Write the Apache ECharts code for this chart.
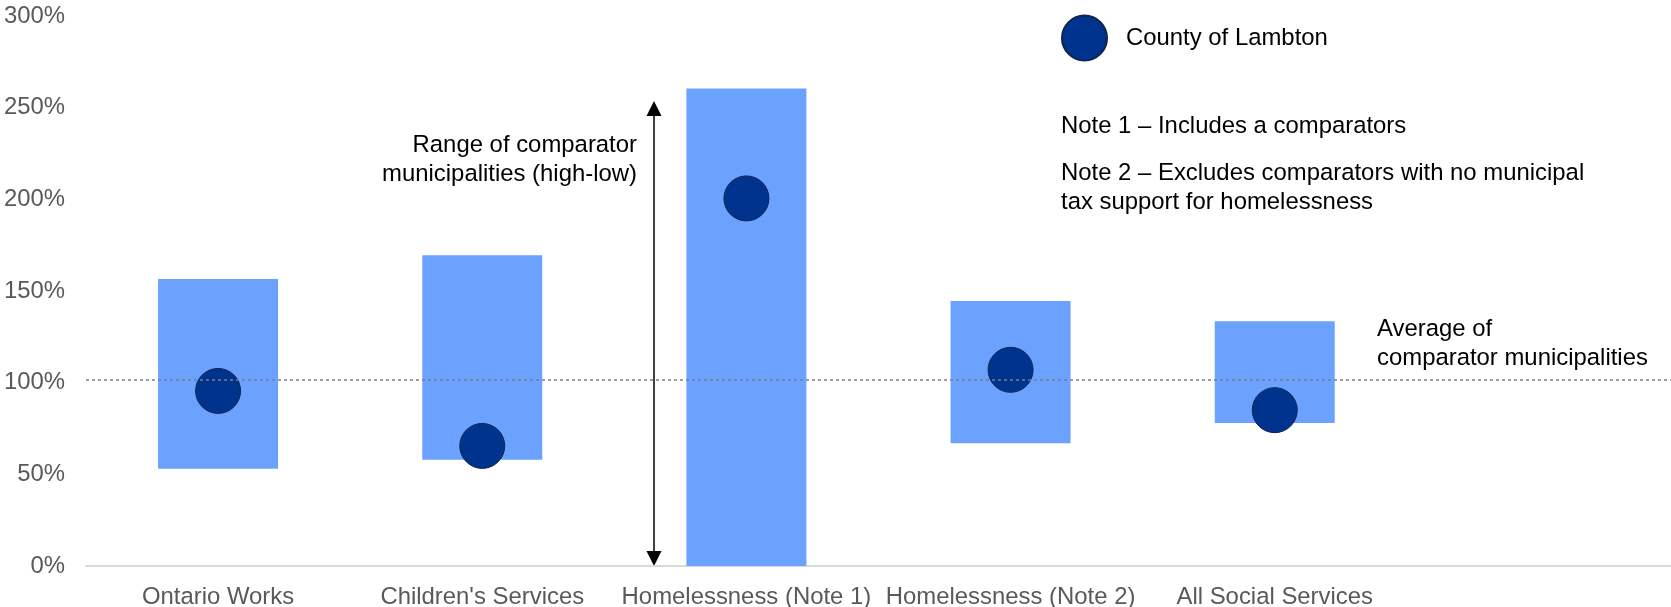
<!DOCTYPE html>
<html><head><meta charset="utf-8">
<script src="https://cdn.jsdelivr.net/npm/echarts@6/dist/echarts.min.js"></script>
<style>html,body{margin:0;padding:0;background:#fff}#c{width:1671px;height:607px}</style>
</head><body><div id="c"></div>
<script>
const categories = ['Ontario Works', "Children's Services", 'Homelessness (Note 1)', 'Homelessness (Note 2)', 'All Social Services', ''];
const rangeLow = [53, 58, 0, 67, 78, null];
const rangeHigh = [156.5, 169.5, 260.5, 144.5, 133.5, null];
const lambton = [95.5, 65.5, 200.5, 107, 85, null];
const comparatorAverage = 101.6;
const yTickValues = [0, 50, 100, 150, 200, 250, 300];

const FONT = '"Liberation Sans", Arial, sans-serif';
const FS = 23.9;
const rangeSpan = rangeHigh.map((h, i) => (h == null ? null : h - rangeLow[i]));

const chart = echarts.init(document.getElementById('c'), null, {renderer: 'canvas'});
chart.setOption({
  animation: false,
  backgroundColor: '#fff',
  textStyle: {fontFamily: FONT},
  grid: {left: 86, right: 0, top: 16, bottom: 41, containLabel: false, outerBoundsMode: 'none'},
  legend: {
    data: ['County of Lambton'], left: 1056, top: 9.5, icon: 'circle',
    itemWidth: 45, itemHeight: 45, selectedMode: false,
    textStyle: {fontSize: FS, color: '#000', fontFamily: FONT, padding: [0, 0, 0, 14]}
  },
  xAxis: {
    type: 'category', data: categories,
    axisLine: {show: true, lineStyle: {color: '#d9d9d9', width: 2}},
    axisTick: {show: false},
    axisLabel: {color: '#595959', fontSize: FS, fontFamily: FONT, margin: 19, interval: 0}
  },
  yAxis: {
    type: 'value', min: yTickValues[0], max: yTickValues[yTickValues.length - 1], interval: 50,
    axisLine: {show: false}, axisTick: {show: false}, splitLine: {show: false},
    axisLabel: {color: '#595959', fontSize: FS, fontFamily: FONT, margin: 21, formatter: '{value}%'}
  },
  series: [
    {
      name: 'low', type: 'bar', stack: 'range', data: rangeLow, barWidth: 120,
      itemStyle: {color: 'rgba(0,0,0,0)'}, silent: true
    },
    {
      name: 'Range', type: 'bar', stack: 'range', data: rangeSpan, barWidth: 120,
      itemStyle: {color: '#6ba2ff'}, silent: true,
      markLine: {
        silent: true, symbol: 'none', z: 10, label: {show: false},
        lineStyle: {type: [3, 3], color: '#7f7f7f', width: 1.5},
        data: [{yAxis: comparatorAverage}]
      }
    },
    {
      name: 'County of Lambton', type: 'scatter', data: lambton, symbol: 'circle', symbolSize: 45, z: 5,
      itemStyle: {color: '#00338d', borderColor: '#10244d', borderWidth: 1, opacity: 1}
    }
  ],
  graphic: [
    {type: 'line', shape: {x1: 654, y1: 112, x2: 654, y2: 555}, style: {stroke: '#000', lineWidth: 1.5}},
    {type: 'polygon', shape: {points: [[654, 101], [646.5, 116], [661.5, 116]]}, style: {fill: '#000'}},
    {type: 'polygon', shape: {points: [[654, 566], [646.5, 551], [661.5, 551]]}, style: {fill: '#000'}},
    {type: 'text', style: {text: 'Range of comparator\nmunicipalities (high-low)', x: 637, y: 131, align: 'right', verticalAlign: 'top', lineHeight: 29, fontSize: FS, fontFamily: FONT, fill: '#000'}},
    {type: 'text', style: {text: 'Note 1 \u2013 Includes a comparators', x: 1061, y: 112, align: 'left', verticalAlign: 'top', lineHeight: 29, fontSize: FS, fontFamily: FONT, fill: '#000'}},
    {type: 'text', style: {text: 'Note 2 \u2013 Excludes comparators with no municipal\ntax support for homelessness', x: 1061, y: 158.5, align: 'left', verticalAlign: 'top', lineHeight: 29, fontSize: FS, fontFamily: FONT, fill: '#000'}},
    {type: 'text', style: {text: 'Average of\ncomparator municipalities', x: 1377, y: 315, align: 'left', verticalAlign: 'top', lineHeight: 29, fontSize: FS, fontFamily: FONT, fill: '#000'}}
  ]
});
</script></body></html>
